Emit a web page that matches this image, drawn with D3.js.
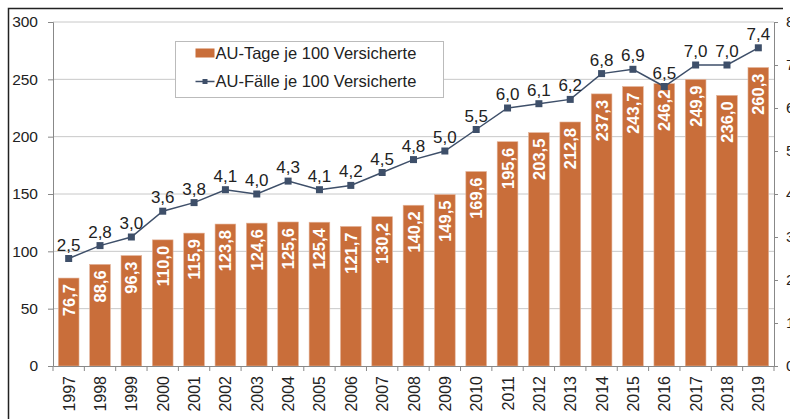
<!DOCTYPE html>
<html>
<head>
<meta charset="utf-8">
<script src="https://cdn.jsdelivr.net/npm/d3@7"></script>
<style>
  body { margin: 0; background: #fff; }
  svg text { font-family: "Liberation Sans", Arial, sans-serif; }
</style>
</head>
<body>
<div id="chart"></div>
<script>
// Data
var years = ["1997", "1998", "1999", "2000", "2001", "2002", "2003", "2004", "2005", "2006", "2007", "2008",
    "2009", "2010", "2011", "2012", "2013", "2014", "2015", "2016", "2017", "2018", "2019"];
var auTage = [76.7, 88.6, 96.3, 110.0, 115.9, 123.8, 124.6, 125.6, 125.4, 121.7, 130.2, 140.2,
    149.5, 169.6, 195.6, 203.5, 212.8, 237.3, 243.7, 246.2, 249.9, 236.0, 260.3];
var auFaelle = [2.5, 2.8, 3.0, 3.6, 3.8, 4.1, 4.0, 4.3, 4.1, 4.2, 4.5, 4.8,
    5.0, 5.5, 6.0, 6.1, 6.2, 6.8, 6.9, 6.5, 7.0, 7.0, 7.4];
var leftTicks = [0, 50, 100, 150, 200, 250, 300];
var rightTicks = [0, 1, 2, 3, 4, 5, 6, 7, 8];
var seriesNames = ["AU-Tage je 100 Versicherte", "AU-Fälle je 100 Versicherte"];

var barColor = "#c96e3a";
var lineColor = "#3e4f69";
var fmt = function(v) { return d3.format(".1f")(v).replace(".", ","); };

var W = 790, H = 419;
var margin = {left: 53, right: 16, top: 22, bottom: 53};
var width = W - margin.left - margin.right;
var height = H - margin.top - margin.bottom;

var svg = d3.select("#chart").append("svg")
    .attr("width", W)
    .attr("height", H);

// outer frame (only top and left visible in the crop)
svg.append("path")
    .attr("d", "M8.5," + H + "V8.5H783")
    .attr("fill", "none")
    .attr("stroke", "#222")
    .attr("stroke-width", 1.5);

var g = svg.append("g")
    .attr("transform", "translate(" + margin.left + "," + margin.top + ")");

var x = d3.scaleBand().domain(years).range([0, width]).paddingInner(0.34).paddingOuter(0.17);
var yL = d3.scaleLinear().domain([0, 300]).range([height, 0]);
var yR = d3.scaleLinear().domain([0, 8]).range([height, 0]);

// gridlines
g.selectAll(".grid").data(leftTicks.slice(1)).enter().append("line")
    .attr("x1", 0).attr("x2", width)
    .attr("y1", function(d) { return yL(d); })
    .attr("y2", function(d) { return yL(d); })
    .attr("stroke", "#c8c8c8")
    .attr("stroke-width", 1);

// bars
g.selectAll(".bar").data(auTage).enter().append("rect")
    .attr("x", function(d, i) { return x(years[i]); })
    .attr("y", function(d) { return yL(d); })
    .attr("width", x.bandwidth())
    .attr("height", function(d) { return height - yL(d); })
    .attr("fill", barColor)
    .attr("stroke", "#e3b49a")
    .attr("stroke-width", 0.6);

// bar labels, rotated, inside top of bar
g.selectAll(".barlabel").data(auTage).enter().append("text")
    .attr("transform", function(d, i) {
        return "translate(" + (x(years[i]) + x.bandwidth() / 2 + 6) + "," + (yL(d) + 6) + ") rotate(-90)";
    })
    .attr("text-anchor", "end")
    .attr("fill", "#fff")
    .attr("font-size", 16.5)
    .attr("font-weight", "bold")
    .text(fmt);

// left axis
var axL = g.append("g").call(d3.axisLeft(yL).tickValues(leftTicks).tickSize(5).tickPadding(10));
axL.select(".domain").attr("stroke", "#888");
axL.selectAll(".tick line").attr("stroke", "#888");
axL.selectAll("text").attr("font-size", 15.5).attr("fill", "#222");

// right axis
var axR = g.append("g")
    .attr("transform", "translate(" + width + ",0)")
    .call(d3.axisRight(yR).tickValues(rightTicks).tickSize(4).tickPadding(8));
axR.select(".domain").attr("stroke", "#888");
axR.selectAll(".tick line").attr("stroke", "#888");
axR.selectAll("text").attr("font-size", 15.5).attr("fill", "#222");

// bottom axis
var axB = g.append("g")
    .attr("transform", "translate(0," + height + ")")
    .call(d3.axisBottom(x).tickSize(0).tickPadding(0));
axB.select(".domain").attr("stroke", "#888");
axB.selectAll("text")
    .attr("font-size", 16)
    .attr("fill", "#222")
    .attr("text-anchor", "end")
    .attr("dy", null)
    .attr("transform", "translate(6,10) rotate(-90)");
// tick marks between categories
var step = x.step();
g.selectAll(".xtick").data(d3.range(years.length + 1)).enter().append("line")
    .attr("x1", function(i) { return i * step; })
    .attr("x2", function(i) { return i * step; })
    .attr("y1", height).attr("y2", height + 5)
    .attr("stroke", "#888");

// line
var line = d3.line()
    .x(function(d, i) { return x(years[i]) + x.bandwidth() / 2; })
    .y(function(d) { return yR(d); });

g.append("path")
    .datum(auFaelle)
    .attr("d", line)
    .attr("fill", "none")
    .attr("stroke", lineColor)
    .attr("stroke-width", 1.5);

g.selectAll(".pt").data(auFaelle).enter().append("rect")
    .attr("x", function(d, i) { return x(years[i]) + x.bandwidth() / 2 - 3.5; })
    .attr("y", function(d) { return yR(d) - 3.5; })
    .attr("width", 7).attr("height", 7)
    .attr("fill", lineColor);

g.selectAll(".ptlabel").data(auFaelle).enter().append("text")
    .attr("x", function(d, i) { return x(years[i]) + x.bandwidth() / 2; })
    .attr("y", function(d) { return yR(d) - 8; })
    .attr("text-anchor", "middle")
    .attr("font-size", 17)
    .attr("fill", "#222")
    .text(fmt);

// legend
var leg = svg.append("g").attr("transform", "translate(175.5,41.5)");
leg.append("rect")
    .attr("width", 268).attr("height", 56)
    .attr("fill", "#fff")
    .attr("stroke", "#bbb");
leg.append("rect")
    .attr("x", 20).attr("y", 7).attr("width", 19).attr("height", 9)
    .attr("fill", barColor);
leg.append("line")
    .attr("x1", 20).attr("x2", 39).attr("y1", 40).attr("y2", 40)
    .attr("stroke", lineColor).attr("stroke-width", 1.5);
leg.append("rect")
    .attr("x", 27).attr("y", 37.5).attr("width", 5).attr("height", 5)
    .attr("fill", lineColor);
leg.selectAll(".legtext").data(seriesNames).enter().append("text")
    .attr("x", 40)
    .attr("y", function(d, i) { return 17 + i * 28; })
    .attr("font-size", 16.5)
    .attr("fill", "#222")
    .text(function(d) { return d; });
</script>
</body>
</html>
